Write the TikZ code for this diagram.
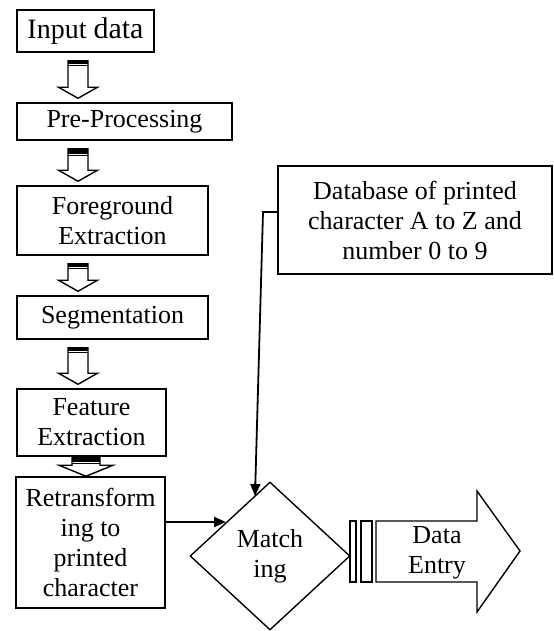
\documentclass[tikz,border=0pt]{standalone}
\usepackage{fontspec}
\setmainfont{Liberation Serif}
\usetikzlibrary{shapes.geometric,arrows.meta,calc}

% hollow block arrow between two stacked boxes
% [gap]{from}{to}{column}{half shaft}{half head}{band}
\newcommand{\hollowarrow}[7][8]{%
  \coordinate (ha top) at ($(#2.south -| #4)+(0,#1)$);
  \coordinate (ha tip) at ($(#3.north -| #4)+(0,-#1/2)$);
  \draw[blockline, fill=white] ($(ha top)+(-#5,0)$) -- ($(ha tip)+(-#5,-11)$)
        -- ($(ha tip)+(-#6,-11)$) -- (ha tip) -- ($(ha tip)+(#6,-11)$)
        -- ($(ha tip)+(#5,-11)$) -- ($(ha top)+(#5,0)$) -- cycle;
  \fill ($(ha top)+(-#5,0)$) rectangle ($(ha top)+(#5,#7)$);
  \draw[line width=0.5pt] ($(ha top)+(-#5,#7+2)$) -- ($(ha top)+(#5,#7+2)$);
}

\begin{document}
\begin{tikzpicture}[x=0.5pt, y=-0.5pt]
    \tikzstyle{box}=[draw, rectangle, line width=0.75pt, inner sep=0, align=center, font=\fontsize{13}{15}\selectfont];
    \tikzstyle{decision}=[draw, diamond, line width=0.7pt, inner sep=0, align=center, font=\fontsize{13}{15}\selectfont];
    \tikzstyle{blockline}=[line width=0.7pt, line join=miter];
    \tikzstyle{link}=[line width=0.9pt, -{Triangle[length=6pt,width=5pt]}];

    \useasboundingbox (0,0) rectangle (553,631);

    \coordinate (colA) at (78,0);
    \coordinate (colB) at (86,0);

    \node[box, minimum width=68.5pt, minimum height=21pt] at (85.5,31) (inp)
        {\fontsize{14}{15}\selectfont Input {\fontsize{15}{15}\selectfont data}};
    \node[box, minimum width=107.5pt, minimum height=18.5pt] at (124.5,121.5) (pre) {Pre-Processing};
    \node[box, minimum width=95.5pt, minimum height=34.5pt] at (112.5,220.5) (fore) {Foreground\\Extraction};
    \node[box, minimum width=95.5pt, minimum height=21.5pt] at (112.5,317.5) (seg) {Segmentation};
    \node[box, minimum width=74.5pt, minimum height=33.5pt] at (91.5,422.5) (feat) {Feature\\Extraction};
    \node[box, minimum width=74.5pt, minimum height=65.5pt] at (90.5,542.5) (retr)
        {Retransform\\ing to\\printed\\character};
    \node[box, minimum width=137pt, minimum height=54pt] at (415,220) (db)
        {Database of printed\\character A to Z and\\number 0 to 9};
    \node[decision, minimum width=80pt, minimum height=74pt] at (270,556) (match) {Match\\ing};
    \node[inner sep=0, align=center, font=\fontsize{13}{15}\selectfont] at (437,553) (entry) {Data\\Entry};

    \coordinate (dbknee) at (263,212);
    \coordinate (dbdrop) at (255,496);
    \coordinate (retrin) at (226,522);

    \hollowarrow{inp}{pre}{colA}{10}{19.5}{3}
    \hollowarrow{pre}{fore}{colA}{10}{19.5}{5}
    \hollowarrow{fore}{seg}{colA}{10}{19.5}{3}
    \hollowarrow{seg}{feat}{colA}{10}{19.5}{3}
    \hollowarrow[0]{feat}{retr}{colB}{14}{27}{5}

    % output arrow with striped tail
    \draw[blockline] (350,521) rectangle (356,582)
                     (361,521) rectangle (372,582);
    \draw[blockline] (376,521) -- (477,521) -- (477,491) -- (520,551)
                     -- (477,612) -- (477,582) -- (376,582) -- cycle;

    \draw[link] ($(db.west)+(0,-8)$) -- (dbknee) -- (dbdrop);
    \draw[link, line width=1.1pt] ($(retr.east)+(0,-20.5)$) -- (retrin);
\end{tikzpicture}
\end{document}
